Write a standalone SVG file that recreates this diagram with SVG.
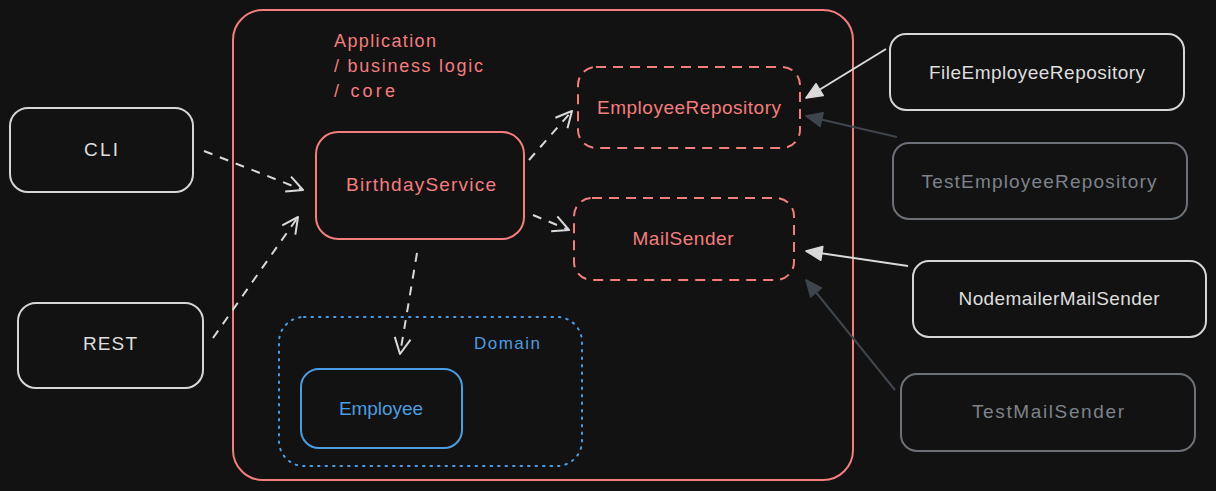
<svg xmlns="http://www.w3.org/2000/svg" width="1216" height="491" viewBox="0 0 1216 491">
<defs>
<style>
.lbl{font-family:"Liberation Sans",Arial,sans-serif;font-size:19px;text-anchor:middle;dominant-baseline:central}
.red{fill:#f57d7d}
.blue{fill:#4a9de0}
.light{fill:#dedede}
.dim{fill:#7d838a}
.box{fill:none;stroke-width:2}
.b-red{stroke:#f57d7d}
.b-blue{stroke:#4a9de0}
.b-light{stroke:#d6d6d6}
.b-dim{stroke:#6c7178}
.dash{stroke-dasharray:10 7}
.dot{stroke-dasharray:1.5 6;stroke-linecap:round}
.conn{fill:none;stroke-width:2}
.c-dash{stroke:#d9d9d9;stroke-dasharray:9 8}
.c-light{stroke:#d9d9d9}
.c-dark{stroke:#3f454c}
</style>
<marker id="open" viewBox="0 0 20 20" refX="18" refY="10" markerWidth="20" markerHeight="20" markerUnits="userSpaceOnUse" orient="auto">
<path d="M2 2 L18 10 L2 18" fill="none" stroke="#d9d9d9" stroke-width="2" stroke-linejoin="round"/>
</marker>
<marker id="fillL" viewBox="0 0 20 20" refX="18" refY="10" markerWidth="20" markerHeight="20" markerUnits="userSpaceOnUse" orient="auto">
<path d="M2 3 L18 10 L2 17 Z" fill="#d9d9d9" stroke="#d9d9d9" stroke-width="1.5" stroke-linejoin="round"/>
</marker>
<marker id="fillD" viewBox="0 0 20 20" refX="18" refY="10" markerWidth="20" markerHeight="20" markerUnits="userSpaceOnUse" orient="auto">
<path d="M2 3 L18 10 L2 17 Z" fill="#3f454c" stroke="#3f454c" stroke-width="1.5" stroke-linejoin="round"/>
</marker>
</defs>
<rect width="1216" height="491" fill="#121212"/>

<g id="application">
<rect class="box b-red" x="233" y="10" width="620" height="470" rx="30"/>
<text class="lbl red" style="text-anchor:start;font-size:18px" x="334" y="41" textLength="102">Application</text>
<text class="lbl red" style="text-anchor:start;font-size:18px" x="334" y="66" textLength="149">/ business logic</text>
<text class="lbl red" style="text-anchor:start;font-size:18px" x="334" y="91" textLength="61">/ core</text>
</g>

<g id="domain">
<rect class="box b-blue dot" x="279" y="317" width="303" height="149" rx="25"/>
<text class="lbl blue" style="font-size:17px" x="507" y="343" textLength="66">Domain</text>
</g>

<g id="birthday-service">
<rect class="box b-red" x="316" y="132" width="208" height="107" rx="22"/>
<text class="lbl red" x="421" y="184" textLength="150">BirthdayService</text>
</g>

<g id="employee-repository">
<rect class="box b-red dash" x="578" y="67" width="222" height="81" rx="18"/>
<text class="lbl red" x="689" y="107" textLength="184">EmployeeRepository</text>
</g>

<g id="mail-sender">
<rect class="box b-red dash" x="574" y="198" width="220" height="82" rx="18"/>
<text class="lbl red" x="683" y="238" textLength="101">MailSender</text>
</g>

<g id="employee">
<rect class="box b-blue" x="301" y="369" width="161" height="79" rx="18"/>
<text class="lbl blue" x="381" y="408" textLength="84">Employee</text>
</g>

<g id="cli">
<rect class="box b-light" x="10" y="108" width="183" height="84" rx="18"/>
<text class="lbl light" x="101" y="149" textLength="34">CLI</text>
</g>

<g id="rest">
<rect class="box b-light" x="18" y="303" width="185" height="85" rx="18"/>
<text class="lbl light" x="110" y="343" textLength="54">REST</text>
</g>

<g id="file-employee-repository">
<rect class="box b-light" x="890" y="34" width="294" height="76" rx="16"/>
<text class="lbl light" x="1037" y="72" textLength="216">FileEmployeeRepository</text>
</g>

<g id="test-employee-repository">
<rect class="box b-dim" x="893" y="143" width="294" height="76" rx="16"/>
<text class="lbl dim" x="1039" y="181" textLength="235">TestEmployeeRepository</text>
</g>

<g id="nodemailer-mail-sender">
<rect class="box b-light" x="913" y="261" width="293" height="76" rx="16"/>
<text class="lbl light" x="1059" y="298" textLength="201">NodemailerMailSender</text>
</g>

<g id="test-mail-sender">
<rect class="box b-dim" x="901" y="374" width="294" height="77" rx="16"/>
<text class="lbl dim" x="1048" y="411" textLength="152">TestMailSender</text>
</g>

<g id="connectors">
<path class="conn c-dash" d="M204 151 L303 190" marker-end="url(#open)"/>
<path class="conn c-dash" d="M213 338 L298 217" marker-end="url(#open)"/>
<path class="conn c-dash" d="M529 160 L572 111" marker-end="url(#open)"/>
<path class="conn c-dash" d="M533 215 L569 230" marker-end="url(#open)"/>
<path class="conn c-dash" d="M417 253 L400 354" marker-end="url(#open)"/>
<path class="conn c-light" d="M886 49 L806 98" marker-end="url(#fillL)"/>
<path class="conn c-dark" d="M897 137 L806 116" marker-end="url(#fillD)"/>
<path class="conn c-light" d="M908 266 L806 251" marker-end="url(#fillL)"/>
<path class="conn c-dark" d="M895 390 L806 280" marker-end="url(#fillD)"/>
</g>
</svg>
